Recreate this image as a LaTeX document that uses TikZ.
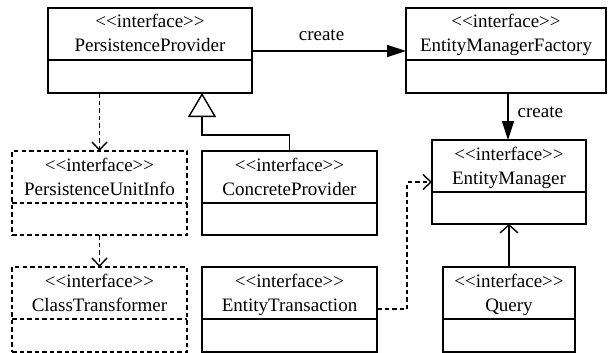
\documentclass[tikz,border=0pt]{standalone}
\usepackage{fontspec}
\setmainfont{Liberation Serif}
\newfontfamily\umlserif{Liberation Serif}
\usetikzlibrary{arrows.meta}

% stereotype text; kerns keep << and >> from turning into guillemets
\newcommand\stereo{<\kern0pt<interface>\kern0pt>}

% class box: [style]{name}{x}{y}{width}{height}{title}
\newcommand\classbox[7][]{%
  \node[box,#1,minimum width=#5pt,minimum height=#6pt,anchor=north west] (#2) at (#3,#4) {};
  \draw[divider,#1] ([yshift=-52pt]#2.north west) -- ([yshift=-52pt]#2.north east);
  \node[lbl,anchor=base,yshift=-20pt] at (#2.north) {\stereo};
  \node[lbl,anchor=base,yshift=-44pt] at (#2.north) {#7};
}

\tikzset{
  box/.style={draw,line width=1.4pt,inner sep=0pt,outer sep=0pt},
  divider/.style={line width=1.4pt},
  lbl/.style={font=\umlserif\fontsize{19}{24}\selectfont,inner sep=0pt},
  dashedbox/.style={dash pattern=on 4.5pt off 3pt},
  conn/.style={line width=1.4pt},
  assoc/.style={conn,-{Triangle[length=19pt,width=12pt]}},
  dep/.style={conn,dash pattern=on 4.5pt off 3pt,-{Straight Barb[length=8pt,width=15pt,line width=1.4pt]}},
  nav/.style={conn,-{Straight Barb[length=8pt,width=18pt,line width=1.4pt]}},
  inherit/.style={conn,-{Triangle[open,length=24pt,width=28pt,fill=white]}},
}

\begin{document}
\begin{tikzpicture}[x=1pt,y=-1pt]
  \useasboundingbox (0,0) rectangle (608,353);

  \classbox{pp}{48}{8}{204}{85}{PersistenceProvider}
  \classbox{emf}{406}{8}{200}{85}{EntityManagerFactory}
  \classbox{em}{432}{140}{154}{84}{EntityManager}
  \classbox{cp}{202}{151}{175}{84}{ConcreteProvider}
  \classbox{et}{202}{267}{175}{85}{EntityTransaction}
  \classbox{q}{443}{267}{132}{85}{Query}
  \classbox[dashedbox]{pui}{12}{151}{175}{84}{PersistenceUnitInfo}
  \classbox[dashedbox]{ct}{12}{267}{175}{85}{ClassTransformer}

  % associations
  \draw[assoc] (pp.east |- 0,51) -- node[lbl,above=9.5pt,xshift=-7.5pt] {create} (emf.west |- 0,51);
  \draw[assoc] (emf.south -| 508,0) -- node[lbl,right=9pt,yshift=4pt] {create} (em.north -| 508,0);
  \draw[nav] (q.north -| 509,0) -- (em.south -| 509,0);

  % generalization
  \coordinate (bend) at (202,135);
  \draw[inherit] (cp.north) |- (bend) -- (pp.south -| bend);

  % dependencies
  \draw[dep] (pp.south -| pui.north) -- (pui.north);
  \draw[dep] (pui.south) -- (ct.north);
  \coordinate (elbow) at (407,182);
  \draw[dep] (et.east |- 0,309) -| (elbow) -- (em.west |- elbow);
\end{tikzpicture}
\end{document}
